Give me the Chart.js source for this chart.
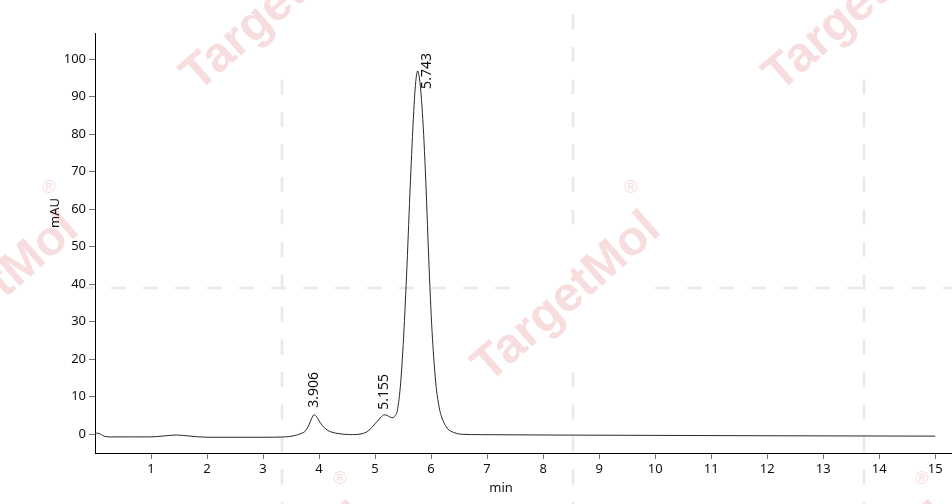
<!DOCTYPE html>
<html>
<head>
<meta charset="utf-8">
<script src="https://cdn.jsdelivr.net/npm/chart.js@4.4.1/dist/chart.umd.min.js"></script>
<style>
  html, body { margin: 0; padding: 0; background: #fff; }
  #wrap { width: 952px; height: 504px; }
</style>
</head>
<body>
<div id="wrap"><canvas id="chromChart" width="952" height="504"></canvas></div>
<script>
// chromatogram trace (min, mAU)
const retentionTimes = [0.00, 0.05, 0.10, 0.18, 0.30, 0.60, 1.00, 1.20, 1.45, 1.70,
  2.00, 2.50, 3.00, 3.40, 3.55, 3.68, 3.75, 3.82, 3.87, 3.91,
  3.95, 4.00, 4.06, 4.12, 4.20, 4.30, 4.45, 4.60, 4.75, 4.85,
  4.93, 5.00, 5.06, 5.12, 5.16, 5.22, 5.28, 5.32, 5.36, 5.39,
  5.42, 5.45, 5.48, 5.51, 5.54, 5.57, 5.60, 5.63, 5.66, 5.69,
  5.72, 5.745, 5.76, 5.775, 5.80, 5.83, 5.86, 5.89, 5.92, 5.95,
  5.98, 6.01, 6.04, 6.07, 6.10, 6.14, 6.18, 6.24, 6.30, 6.40,
  6.54, 6.90, 8.00, 10.00, 12.00, 15.00];
const absorbance = [0.2, 0.3, 0.0, -0.6, -0.7, -0.7, -0.7, -0.5, -0.2, -0.5,
  -0.8, -0.8, -0.8, -0.7, -0.4, 0.2, 0.8, 2.5, 4.3, 5.2,
  4.8, 3.6, 2.3, 1.4, 0.7, 0.3, 0.0, -0.1, 0.1, 0.6,
  1.6, 2.8, 3.8, 4.8, 5.2, 5.0, 4.5, 4.4, 5.0, 5.8,
  8.5, 12.5, 18.5, 26.0, 35.0, 45.0, 56.0, 67.0, 77.0, 86.0,
  93.0, 96.2, 96.9, 96.4, 94.0, 89.0, 82.0, 73.0, 62.0, 50.0,
  39.0, 29.5, 22.0, 16.0, 11.5, 7.5, 5.0, 2.8, 1.4, 0.5,
  0.0, -0.1, -0.2, -0.3, -0.4, -0.5];

// annotated peaks
const peakTimes = [3.906, 5.155, 5.743];
const peakHeights = [5.2, 5.2, 96.9];
const peakLabels = ['3.906', '5.155', '5.743'];

// axis ticks
const xTickValues = [1, 2, 3, 4, 5, 6, 7, 8, 9, 10, 11, 12, 13, 14, 15];
const yTickValues = [0, 10, 20, 30, 40, 50, 60, 70, 80, 90, 100];

const FONT = '"Noto Sans", "DejaVu Sans", sans-serif';

// TargetMol watermark: dashed cross grid + rotated logo text
const watermark = {
  id: 'watermark',
  beforeDraw(chart) {
    const ctx = chart.ctx;
    const W = chart.width, H = chart.height;
    ctx.save();
    ctx.fillStyle = '#fff';
    ctx.fillRect(0, 0, W, H);

    const cols = [-9, 282, 573, 864];
    const rows = [-3, 288, 579];
    const logos = [];
    cols.forEach((cx, i) => rows.forEach((cy, j) => {
      if ((i + j) % 2 === 1) logos.push([cx, cy]);
    }));
    const nearLogo = (x, y) => logos.some(p => Math.abs(p[0] - x) < 60 && Math.abs(p[1] - y) < 60);

    ctx.strokeStyle = '#e8e8e8';
    ctx.lineWidth = 2.5;
    ctx.beginPath();
    cols.forEach(cx => {
      for (let y = -18; y < H; y += 32.5) {
        if (nearLogo(cx, y) || nearLogo(cx, y + 15)) continue;
        ctx.moveTo(cx, y); ctx.lineTo(cx, y + 15);
      }
    });
    rows.forEach(cy => {
      for (let x = -17; x < W; x += 32) {
        if (nearLogo(x, cy) || nearLogo(x + 15, cy)) continue;
        ctx.moveTo(x, cy); ctx.lineTo(x + 15, cy);
      }
    });
    ctx.stroke();

    logos.forEach(([cx, cy]) => {
      ctx.save();
      ctx.translate(cx - 6, cy + 10);
      ctx.rotate(-41 * Math.PI / 180);
      ctx.fillStyle = '#f7dddd';
      ctx.font = 'bold 49px "Liberation Sans", Arial, sans-serif';
      ctx.textAlign = 'center';
      ctx.textBaseline = 'middle';
      ctx.fillText('TargetMol', 0, 0);
      ctx.restore();
      ctx.fillStyle = '#f7dddd';
      ctx.font = '18px "Liberation Sans", Arial, sans-serif';
      ctx.textAlign = 'center';
      ctx.textBaseline = 'middle';
      ctx.fillText('®', cx + 58, cy - 100);
    });
    ctx.restore();
  }
};

// axis titles and peak labels
const annotations = {
  id: 'annotations',
  afterDatasetsDraw(chart, args, opts) {
    const ctx = chart.ctx;
    const xs = chart.scales.x, ys = chart.scales.y;
    ctx.save();
    ctx.fillStyle = '#111';
    ctx.font = '14px ' + FONT;
    ctx.textBaseline = 'middle';

    peakTimes.forEach((t, i) => {
      const off = opts.offsets[i];
      const px = xs.getPixelForValue(t) + off[0];
      const py = ys.getPixelForValue(peakHeights[i]) + off[1];
      ctx.save();
      ctx.translate(px, py);
      ctx.rotate(-Math.PI / 2);
      ctx.textAlign = 'left';
      ctx.fillText(peakLabels[i], 0, 0);
      ctx.restore();
    });

    ctx.font = '13px ' + FONT;
    ctx.textAlign = 'center';
    ctx.save();
    ctx.translate(55, 213);
    ctx.rotate(-Math.PI / 2);
    ctx.fillText('mAU', 0, 0);
    ctx.restore();
    ctx.fillText('min', 501, 488);
    ctx.restore();
  }
};

const points = retentionTimes.map((t, i) => ({ x: t, y: absorbance[i] }));

new Chart(document.getElementById('chromChart'), {
  type: 'line',
  data: {
    datasets: [{
      data: points,
      borderColor: '#2a2a2a',
      borderWidth: 1,
      pointRadius: 0,
      fill: false,
      cubicInterpolationMode: 'monotone'
    }]
  },
  options: {
    responsive: false,
    devicePixelRatio: 1,
    animation: false,
    layout: { padding: { top: 33, left: 0, right: 0, bottom: 0 } },
    plugins: {
      legend: { display: false },
      tooltip: { enabled: false },
      annotations: { offsets: [[0, -7], [0, -5], [10, 18]] }
    },
    scales: {
      x: {
        type: 'linear',
        min: 0,
        max: 15.3,
        afterBuildTicks: s => { s.ticks = xTickValues.map(v => ({ value: v })); },
        afterFit: s => { s.height = 51; },
        border: { display: true, color: '#000', width: 1 },
        grid: { drawOnChartArea: false, drawTicks: true, tickLength: 6, color: '#777' },
        ticks: { color: '#111', padding: 2, maxRotation: 0, autoSkip: false, font: { family: FONT, size: 13 } }
      },
      y: {
        type: 'linear',
        min: -5,
        max: 107,
        afterBuildTicks: s => { s.ticks = yTickValues.map(v => ({ value: v })); },
        afterFit: s => { s.width = 95; },
        border: { display: true, color: '#000', width: 1 },
        grid: { drawOnChartArea: false, drawTicks: true, tickLength: 6, color: '#777' },
        ticks: { color: '#111', padding: 3, autoSkip: false, font: { family: FONT, size: 13 } }
      }
    }
  },
  plugins: [watermark, annotations]
});
</script>
</body>
</html>
